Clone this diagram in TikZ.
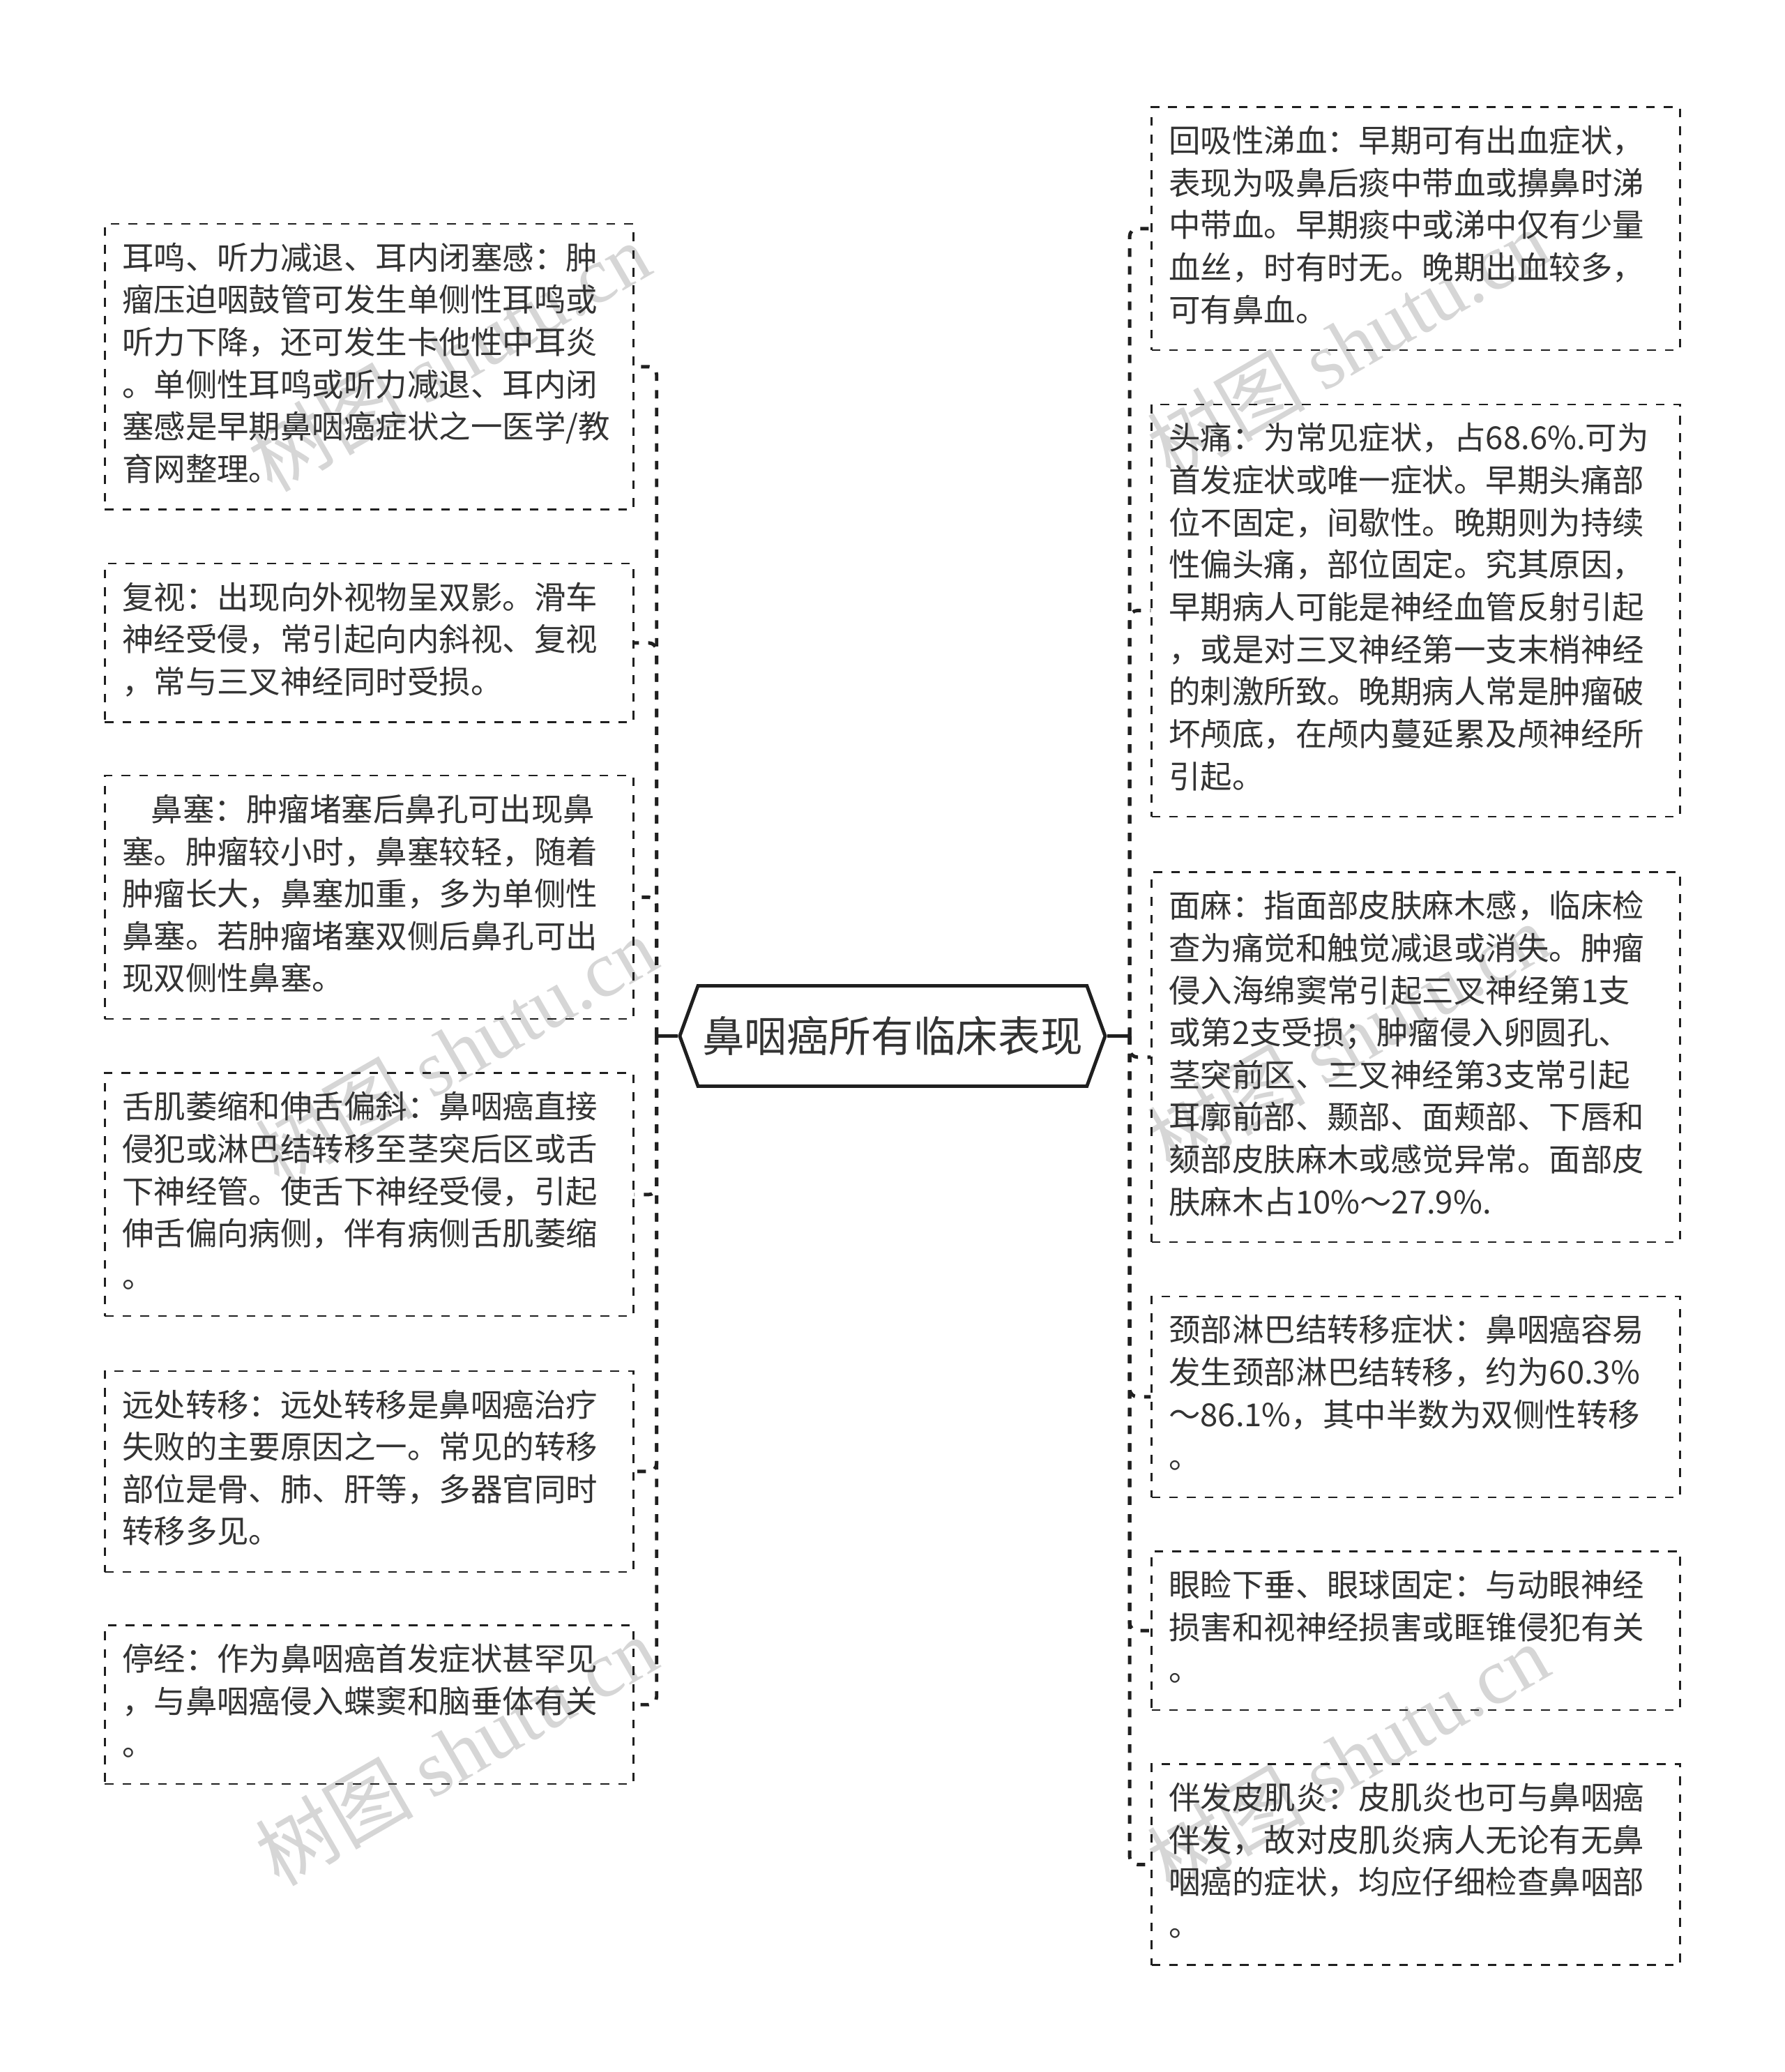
\documentclass[tikz,border=0pt]{standalone}
\usepackage{fontspec}
\setmainfont{Noto Sans CJK SC}
\newfontfamily\wmfont{Liberation Serif}
\usepackage{tikz}
\usetikzlibrary{shapes.symbols}
\definecolor{ink}{HTML}{333333}
\definecolor{line}{HTML}{1F1F1F}
\definecolor{wmgray}{HTML}{D6D6D6}

\tikzset{
  leaf/.style={draw=line, line width=0.6pt, dash pattern=on 3.3pt off 3.4pt,
    text=ink, text width=187pt, inner xsep=6.5pt, inner ysep=6pt, align=left,
    font=\fontsize{12pt}{16pt}\selectfont,
    execute at begin node=\strut, execute at end node=\strut},
  root/.style={signal, signal to=west and east, signal pointer angle=140,
    draw=line, line width=1.3pt, text=ink, inner sep=0pt,
    minimum width=161pt, minimum height=38pt,
    font=\fontsize{16pt}{20pt}\selectfont},
  link/.style={draw=line, line width=1.3pt, dash pattern=on 3.2pt off 3.5pt,
    rounded corners=3pt},
  stem/.style={draw=line, line width=1.3pt},
  wmark/.style={text=wmgray, rotate=30, inner sep=0pt,
    font=\fontsize{30pt}{30pt}\selectfont}
}

\begin{document}
\begin{tikzpicture}[x=0.5pt, y=-0.5pt]

    % Page
    \fill[white] (0,0) rectangle (1351,1568);

    % Watermarks
    \node[wmark] (w1) at (340,270) {树图 {\wmfont shutu.cn}};
    \node[wmark] (w2) at (345,795) {树图 {\wmfont shutu.cn}};
    \node[wmark] (w3) at (345,1325) {树图 {\wmfont shutu.cn}};
    \node[wmark] (w4) at (1020,260) {树图 {\wmfont shutu.cn}};
    \node[wmark] (w5) at (1020,785) {树图 {\wmfont shutu.cn}};
    \node[wmark] (w6) at (1020,1330) {树图 {\wmfont shutu.cn}};

    % Central topic
    \node[root] (root) at (675.5,784) {鼻咽癌所有临床表现};

    % Left branch
    \node[leaf, anchor=east] (l1) at (480,277.5)
        {耳鸣、听力减退、耳内闭塞感：肿\\瘤压迫咽鼓管可发生单侧性耳鸣或\\听力下降，还可发生卡他性中耳炎\\。单侧性耳鸣或听力减退、耳内闭\\塞感是早期鼻咽癌症状之一医学/教\\育网整理。};
    \node[leaf, anchor=east] (l2) at (480,486.5)
        {复视：出现向外视物呈双影。滑车\\神经受侵，常引起向内斜视、复视\\，常与三叉神经同时受损。};
    \node[leaf, anchor=east] (l3) at (480,679)
        {\hspace*{11pt}鼻塞：肿瘤堵塞后鼻孔可出现鼻\\塞。肿瘤较小时，鼻塞较轻，随着\\肿瘤长大，鼻塞加重，多为单侧性\\鼻塞。若肿瘤堵塞双侧后鼻孔可出\\现双侧性鼻塞。};
    \node[leaf, anchor=east] (l4) at (480,904)
        {舌肌萎缩和伸舌偏斜：鼻咽癌直接\\侵犯或淋巴结转移至茎突后区或舌\\下神经管。使舌下神经受侵，引起\\伸舌偏向病侧，伴有病侧舌肌萎缩\\。};
    \node[leaf, anchor=east] (l5) at (480,1113.5)
        {远处转移：远处转移是鼻咽癌治疗\\失败的主要原因之一。常见的转移\\部位是骨、肺、肝等，多器官同时\\转移多见。};
    \node[leaf, anchor=east] (l6) at (480,1290)
        {停经：作为鼻咽癌首发症状甚罕见\\，与鼻咽癌侵入蝶窦和脑垂体有关\\。};

    % Right branch
    \node[leaf, anchor=west] (r1) at (871,173)
        {回吸性涕血：早期可有出血症状，\\表现为吸鼻后痰中带血或擤鼻时涕\\中带血。早期痰中或涕中仅有少量\\血丝，时有时无。晚期出血较多，\\可有鼻血。};
    \node[leaf, anchor=west] (r2) at (871,462)
        {头痛：为常见症状，占68.6\%.可为\\首发症状或唯一症状。早期头痛部\\位不固定，间歇性。晚期则为持续\\性偏头痛，部位固定。究其原因，\\早期病人可能是神经血管反射引起\\，或是对三叉神经第一支末梢神经\\的刺激所致。晚期病人常是肿瘤破\\坏颅底，在颅内蔓延累及颅神经所\\引起。};
    \node[leaf, anchor=west] (r3) at (871,800)
        {面麻：指面部皮肤麻木感，临床检\\查为痛觉和触觉减退或消失。肿瘤\\侵入海绵窦常引起三叉神经第1支\\或第2支受损；肿瘤侵入卵圆孔、\\茎突前区、三叉神经第3支常引起\\耳廓前部、颞部、面颊部、下唇和\\颏部皮肤麻木或感觉异常。面部皮\\肤麻木占10\%～27.9\%.};
    \node[leaf, anchor=west] (r4) at (871,1057)
        {颈部淋巴结转移症状：鼻咽癌容易\\发生颈部淋巴结转移，约为60.3\%\\～86.1\%，其中半数为双侧性转移\\。};
    \node[leaf, anchor=west] (r5) at (871,1234)
        {眼睑下垂、眼球固定：与动眼神经\\损害和视神经损害或眶锥侵犯有关\\。};
    \node[leaf, anchor=west] (r6) at (871,1411)
        {伴发皮肌炎：皮肌炎也可与鼻咽癌\\伴发，故对皮肌炎病人无论有无鼻\\咽癌的症状，均应仔细检查鼻咽部\\。};

    % Trunks
    \coordinate (ltrunk) at (497,784);
    \coordinate (rtrunk) at (855,784);
    \draw[stem] (root.west) -- (ltrunk);
    \draw[stem] (root.east) -- (rtrunk);

    % Connectors
    \draw[link] (ltrunk) |- (l1.east);
    \draw[link] (ltrunk) |- (l2.east);
    \draw[link] (ltrunk) |- (l3.east);
    \draw[link] (ltrunk) |- (l4.east);
    \draw[link] (ltrunk) |- (l5.east);
    \draw[link] (ltrunk) |- (l6.east);
    \draw[link] (rtrunk) |- (r1.west);
    \draw[link] (rtrunk) |- (r2.west);
    \draw[link] (rtrunk) |- (r3.west);
    \draw[link] (rtrunk) |- (r4.west);
    \draw[link] (rtrunk) |- (r5.west);
    \draw[link] (rtrunk) |- (r6.west);

\end{tikzpicture}
\end{document}
